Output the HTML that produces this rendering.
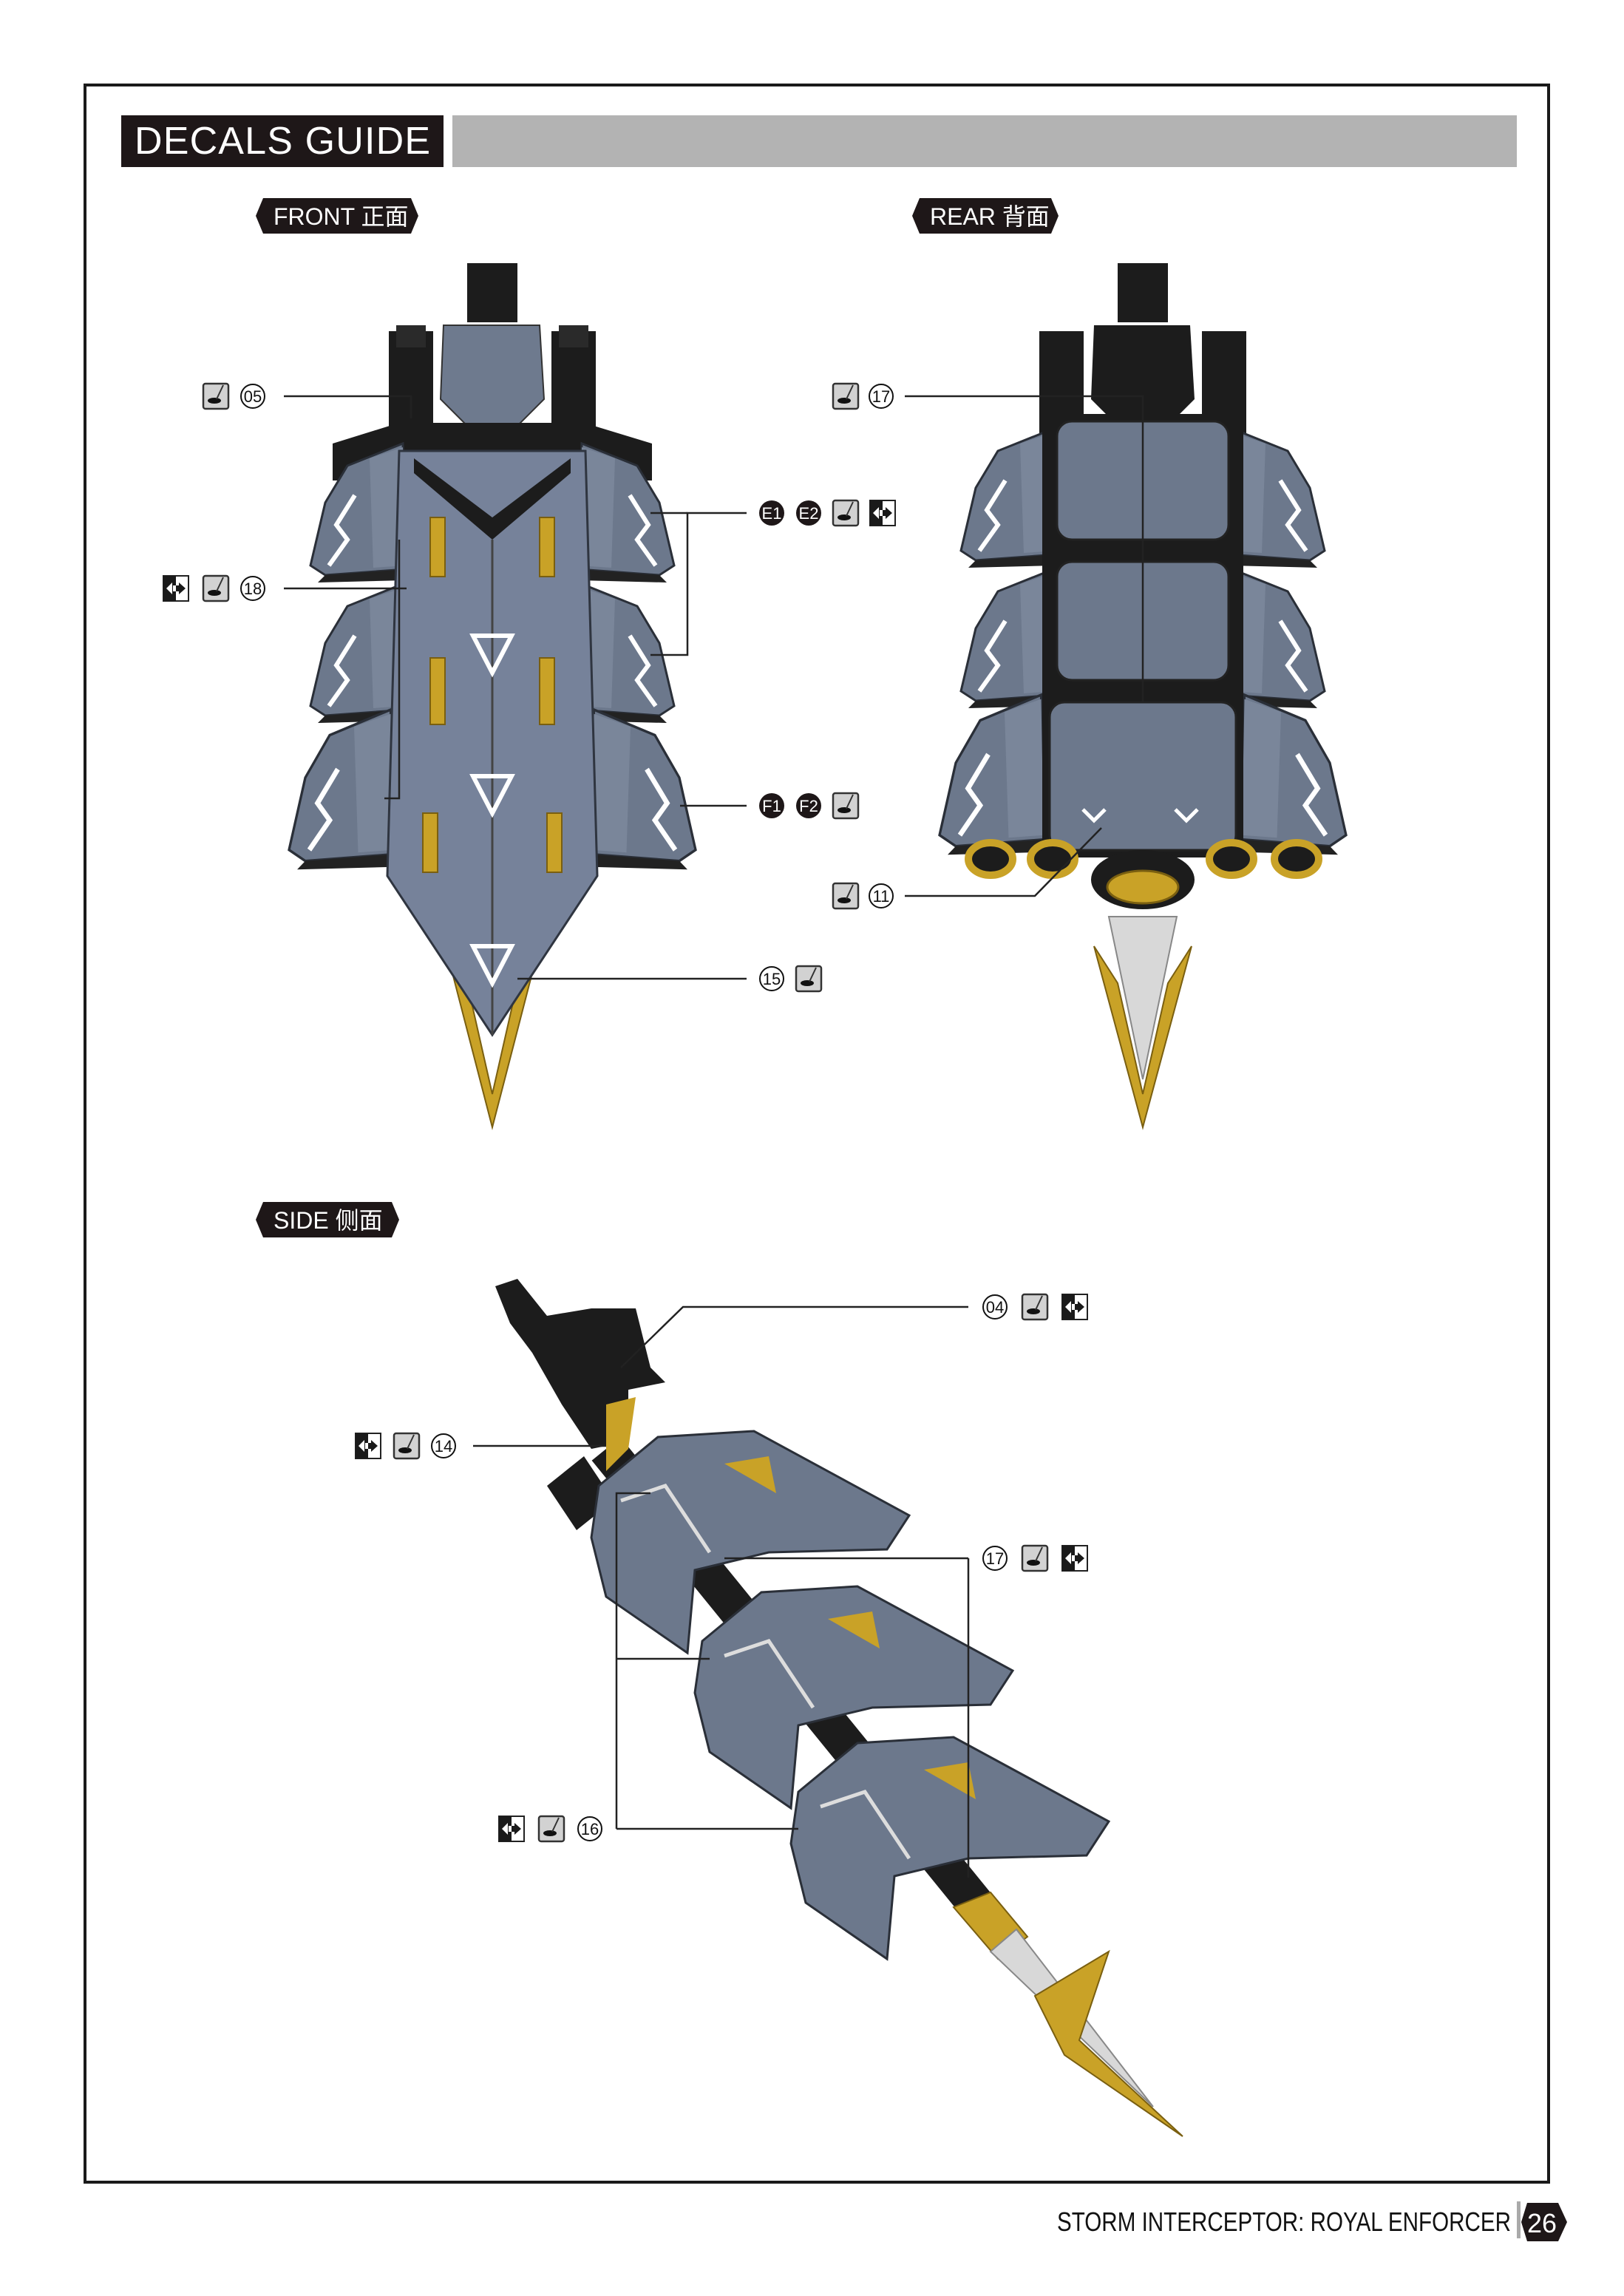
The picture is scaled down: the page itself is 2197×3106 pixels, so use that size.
<!DOCTYPE html>
<html><head><meta charset="utf-8"><style>
html,body{margin:0;padding:0;background:#fff}
svg{display:block}
text{font-family:"Liberation Sans","Noto Sans CJK SC",sans-serif}
</style></head><body>
<svg width="2197" height="3106" viewBox="0 0 2197 3106" xmlns="http://www.w3.org/2000/svg">
<defs>
<g id="dec"><rect x="-17" y="-17" width="34" height="34" rx="3" fill="#d2d2d2" stroke="#333" stroke-width="2.5"/><ellipse cx="-2" cy="6" rx="9" ry="4" fill="#111"/><line x1="1" y1="4" x2="10" y2="-15" stroke="#333" stroke-width="2"/></g>
<g id="flip"><rect x="-17" y="-17" width="34" height="34" fill="#fff" stroke="#222" stroke-width="2"/><rect x="-17" y="-17" width="17" height="34" fill="#1a1a1a"/><polygon points="-13,0 -5,-8 -5,8" fill="#fff"/><polygon points="13,0 4,-8 4,8" fill="#1a1a1a"/><rect x="-4" y="-4" width="8" height="8" fill="#1a1a1a"/><rect x="-4" y="-4" width="4" height="8" fill="#fff"/></g>
<g id="wingL">
<polygon points="470,30 545,0 550,170 440,178 420,165 440,80" fill="#6c788c" stroke="#2a2f38" stroke-width="3"/>
<polygon points="500,20 545,5 548,165 505,168" fill="#7a869a"/>
<polyline points="480,70 455,110 470,130 445,165" fill="none" stroke="#fff" stroke-width="6"/>
<polygon points="440,178 550,170 548,185 430,188" fill="#222"/>
</g>
</defs>

<!-- frame -->
<rect x="115" y="115" width="1980" height="2837" fill="none" stroke="#1a1a1a" stroke-width="4"/>
<rect x="164" y="156" width="436" height="70" fill="#1e1718"/>
<text x="182" y="208" font-size="52" fill="#fff" textLength="400">DECALS GUIDE</text>
<rect x="612" y="156" width="1440" height="70" fill="#b3b3b3"/>

<!-- pills -->
<g fill="#1e1718">
<polygon points="356,268 556,268 566,292 556,316 356,316 346,292"/>
<polygon points="1244,268 1422,268 1432,292 1422,316 1244,316 1234,292"/>
<polygon points="356,1626 530,1626 540,1650 530,1674 356,1674 346,1650"/>
</g>
<text x="370" y="304" font-size="32" fill="#fff">FRONT 正面</text>
<text x="1258" y="304" font-size="32" fill="#fff">REAR 背面</text>
<text x="370" y="1662" font-size="32" fill="#fff">SIDE 侧面</text>

<!-- FRONT SHIP -->
<g>
<polygon points="600,1270 666,1525 732,1270 700,1330 666,1480 632,1330" fill="#c9a227" stroke="#7a5f10" stroke-width="2"/>
<rect x="632" y="356" width="68" height="80" fill="#1c1c1c"/>
<rect x="526" y="448" width="60" height="150" fill="#1c1c1c"/>
<rect x="746" y="448" width="60" height="150" fill="#1c1c1c"/>
<rect x="536" y="440" width="40" height="30" fill="#2a2a2a"/>
<rect x="756" y="440" width="40" height="30" fill="#2a2a2a"/>
<path d="M600,440 L730,440 L736,540 L700,576 L632,576 L596,540Z" fill="#6e7a8e" stroke="#333" stroke-width="2"/>
<polygon points="450,600 540,572 790,572 882,600 882,650 450,650" fill="#1c1c1c"/>
<use href="#wingL" transform="translate(0,600)"/>
<use href="#wingL" transform="translate(0,790)"/>
<use href="#wingL" transform="translate(-60,960) scale(1.1,1.15) translate(-10,0)"/>
<g transform="translate(1332,0) scale(-1,1)">
<use href="#wingL" transform="translate(0,600)"/>
<use href="#wingL" transform="translate(0,790)"/>
<use href="#wingL" transform="translate(-60,960) scale(1.1,1.15) translate(-10,0)"/>
</g>
<polygon points="540,610 792,610 808,1185 666,1400 524,1185" fill="#76829a" stroke="#2f3540" stroke-width="3"/>
<polygon points="560,620 666,700 772,620 772,640 666,730 560,640" fill="#1c1c1c"/>
<line x1="666" y1="730" x2="666" y2="1400" stroke="#444" stroke-width="3"/>
<g fill="#c9a227" stroke="#7a5f10" stroke-width="2">
<rect x="582" y="700" width="20" height="80"/><rect x="730" y="700" width="20" height="80"/>
<rect x="582" y="890" width="20" height="90"/><rect x="730" y="890" width="20" height="90"/>
<rect x="572" y="1100" width="20" height="80"/><rect x="740" y="1100" width="20" height="80"/>
</g>
<g fill="none" stroke="#fff" stroke-width="6">
<polygon points="640,860 692,860 666,910"/><polygon points="640,1050 692,1050 666,1100"/><polygon points="640,1280 692,1280 666,1330"/>
</g>
</g>

<!-- REAR SHIP -->
<g>
<polygon points="1480,1280 1546,1525 1612,1280 1580,1330 1546,1480 1512,1330" fill="#c9a227" stroke="#7a5f10" stroke-width="2"/>
<polygon points="1500,1240 1546,1460 1592,1240" fill="#d8d8d8" stroke="#888" stroke-width="2"/>
<rect x="1512" y="356" width="68" height="80" fill="#1c1c1c"/>
<rect x="1406" y="448" width="60" height="150" fill="#1c1c1c"/>
<rect x="1626" y="448" width="60" height="150" fill="#1c1c1c"/>
<path d="M1480,440 L1610,440 L1616,540 L1580,576 L1512,576 L1476,540Z" fill="#1c1c1c"/>
<use href="#wingL" transform="translate(880,580)"/>
<use href="#wingL" transform="translate(880,770)"/>
<use href="#wingL" transform="translate(820,940) scale(1.1,1.15) translate(-10,0)"/>
<g transform="translate(3092,0) scale(-1,1)">
<use href="#wingL" transform="translate(880,580)"/>
<use href="#wingL" transform="translate(880,770)"/>
<use href="#wingL" transform="translate(820,940) scale(1.1,1.15) translate(-10,0)"/>
</g>
<rect x="1410" y="560" width="272" height="600" fill="#1c1c1c"/>
<rect x="1430" y="570" width="232" height="160" rx="20" fill="#6c788c" stroke="#222" stroke-width="3"/>
<rect x="1430" y="760" width="232" height="160" rx="20" fill="#6c788c" stroke="#222" stroke-width="3"/>
<rect x="1420" y="950" width="252" height="200" rx="20" fill="#6c788c" stroke="#222" stroke-width="3"/>
<g fill="#1c1c1c" stroke="#c9a227" stroke-width="10">
<ellipse cx="1340" cy="1162" rx="30" ry="22"/><ellipse cx="1424" cy="1162" rx="30" ry="22"/>
<ellipse cx="1666" cy="1162" rx="30" ry="22"/><ellipse cx="1754" cy="1162" rx="30" ry="22"/>
</g>
<ellipse cx="1546" cy="1190" rx="70" ry="40" fill="#1c1c1c"/>
<ellipse cx="1546" cy="1200" rx="48" ry="22" fill="#c9a227" stroke="#7a5f10" stroke-width="3"/>
<g fill="none" stroke="#fff" stroke-width="5"><polyline points="1465,1095 1480,1110 1495,1095"/><polyline points="1590,1095 1605,1110 1620,1095"/></g>
</g>

<!-- SIDE SHIP -->
<g>
<line x1="820" y1="1960" x2="1340" y2="2600" stroke="#1c1c1c" stroke-width="50"/>
<polygon points="670,1740 700,1730 740,1780 800,1770 860,1770 880,1850 900,1870 850,1880 850,1950 800,1960 760,1900 720,1830 690,1790" fill="#1c1c1c"/>
<polygon points="820,1900 860,1890 850,1960 820,1990" fill="#c9a227"/>
<polygon points="740,2010 790,1970 830,2030 780,2070" fill="#1c1c1c"/>
<g id="tier">
<polygon points="810,2010 890,1944 1020,1936 1230,2050 1200,2096 1040,2100 940,2124 930,2236 820,2160 800,2080" fill="#6c788c" stroke="#2a2f38" stroke-width="3"/>
<polygon points="980,1980 1040,1970 1050,2020" fill="#c9a227"/>
<polyline points="840,2030 900,2010 960,2100" fill="none" stroke="#ddd" stroke-width="5"/>
</g>
<use href="#tier" transform="translate(140,210)"/>
<use href="#tier" transform="translate(270,414)"/>
<polygon points="1290,2580 1340,2560 1390,2620 1350,2650" fill="#c9a227" stroke="#7a5f10" stroke-width="2"/>
<polygon points="1340,2640 1375,2610 1560,2850" fill="#d8d8d8" stroke="#888" stroke-width="2"/>
<polygon points="1400,2700 1500,2640 1460,2760 1600,2890 1440,2780" fill="#c9a227" stroke="#7a5f10" stroke-width="2"/>
</g>

<!-- leader lines -->
<g fill="none" stroke="#222" stroke-width="2.5">
<polyline points="384,536 556,536 556,566"/>
<polyline points="1010,694 930,694 930,886 880,886"/><line x1="930" y1="694" x2="880" y2="694"/>
<polyline points="384,796 550,796"/><polyline points="540,730 540,1080 520,1080"/>
<line x1="1010" y1="1090" x2="920" y2="1090"/>
<line x1="1010" y1="1324" x2="700" y2="1324"/>
<polyline points="1224,536 1546,536 1546,950"/>
<polyline points="1224,1212 1400,1212 1490,1120"/>
<polyline points="1310,1768 924,1768 840,1850"/>
<line x1="640" y1="1956" x2="820" y2="1956"/>
<polyline points="1310,2108 1310,2540"/><line x1="1310" y1="2108" x2="980" y2="2108"/>
<polyline points="834,2474 834,2020 880,2020"/><line x1="834" y1="2244" x2="960" y2="2244"/><line x1="834" y1="2474" x2="1080" y2="2474"/>
</g>

<!-- labels -->
<g font-size="22" text-anchor="middle" fill="#111">
<use href="#dec" x="292" y="536"/><circle cx="342" cy="536" r="16" fill="none" stroke="#111" stroke-width="2"/><text x="342" y="544">05</text>
<use href="#flip" x="238" y="796"/><use href="#dec" x="292" y="796"/><circle cx="342" cy="796" r="16" fill="none" stroke="#111" stroke-width="2"/><text x="342" y="804">18</text>
<circle cx="1044" cy="694" r="17" fill="#1e1718"/><text x="1044" y="702" fill="#fff">E1</text>
<circle cx="1094" cy="694" r="17" fill="#1e1718"/><text x="1094" y="702" fill="#fff">E2</text>
<use href="#dec" x="1144" y="694"/><use href="#flip" x="1194" y="694"/>
<circle cx="1044" cy="1090" r="17" fill="#1e1718"/><text x="1044" y="1098" fill="#fff">F1</text>
<circle cx="1094" cy="1090" r="17" fill="#1e1718"/><text x="1094" y="1098" fill="#fff">F2</text>
<use href="#dec" x="1144" y="1090"/>
<circle cx="1044" cy="1324" r="16" fill="none" stroke="#111" stroke-width="2"/><text x="1044" y="1332">15</text><use href="#dec" x="1094" y="1324"/>
<use href="#dec" x="1144" y="536"/><circle cx="1192" cy="536" r="16" fill="none" stroke="#111" stroke-width="2"/><text x="1192" y="544">17</text>
<use href="#dec" x="1144" y="1212"/><circle cx="1192" cy="1212" r="16" fill="none" stroke="#111" stroke-width="2"/><text x="1192" y="1220">11</text>
<circle cx="1346" cy="1768" r="16" fill="none" stroke="#111" stroke-width="2"/><text x="1346" y="1776">04</text><use href="#dec" x="1400" y="1768"/><use href="#flip" x="1454" y="1768"/>
<use href="#flip" x="498" y="1956"/><use href="#dec" x="550" y="1956"/><circle cx="600" cy="1956" r="16" fill="none" stroke="#111" stroke-width="2"/><text x="600" y="1964">14</text>
<circle cx="1346" cy="2108" r="16" fill="none" stroke="#111" stroke-width="2"/><text x="1346" y="2116">17</text><use href="#dec" x="1400" y="2108"/><use href="#flip" x="1454" y="2108"/>
<use href="#flip" x="692" y="2474"/><use href="#dec" x="746" y="2474"/><circle cx="798" cy="2474" r="16" fill="none" stroke="#111" stroke-width="2"/><text x="798" y="2482">16</text>
</g>

<!-- footer -->
<text x="1430" y="3018" font-size="36" fill="#111" textLength="614" lengthAdjust="spacingAndGlyphs">STORM INTERCEPTOR:  ROYAL ENFORCER</text>
<rect x="2052" y="2978" width="5" height="50" fill="#aaa"/>
<polygon points="2066,2980 2108,2980 2120,3006 2108,3032 2066,3032 2058,3006" fill="#1e1718"/>
<text x="2066" y="3020" font-size="36" fill="#fff">26</text>
</svg>
</body></html>
